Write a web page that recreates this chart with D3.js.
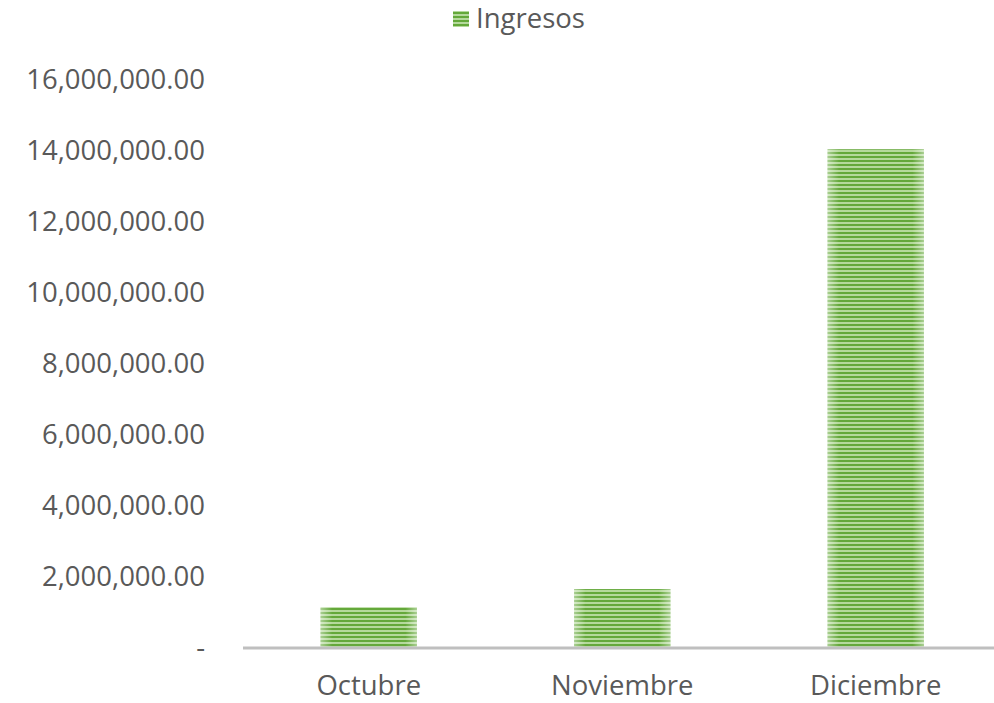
<!DOCTYPE html>
<html><head><meta charset="utf-8">
<script src="https://cdn.jsdelivr.net/npm/d3@7"></script>
<style>body{margin:0;background:#fff}svg{display:block}</style>
</head><body>
<script>
const categories = ["Octubre", "Noviembre", "Diciembre"];
const ingresos = [1150000, 1660000, 14050000];
const yTicks = [0, 2000000, 4000000, 6000000, 8000000, 10000000, 12000000, 14000000, 16000000];
const seriesName = "Ingresos";

const W = 994, H = 703;
const svg = d3.select("body").append("svg").attr("width", W).attr("height", H);
const defs = svg.append("defs");
const pat = defs.append("pattern").attr("id", "stripes").attr("patternUnits", "userSpaceOnUse")
  .attr("width", 8).attr("height", 4);
pat.append("rect").attr("width", 8).attr("height", 4).attr("fill", "#b5d99c");
pat.append("rect").attr("y", 0).attr("width", 8).attr("height", 2).attr("fill", "#64a83a");
const grad = defs.append("linearGradient").attr("id", "edge").attr("x1", 0).attr("x2", 1);
grad.append("stop").attr("offset", 0).attr("stop-color", "#fff").attr("stop-opacity", 0.45);
grad.append("stop").attr("offset", 0.12).attr("stop-color", "#fff").attr("stop-opacity", 0);
grad.append("stop").attr("offset", 0.88).attr("stop-color", "#fff").attr("stop-opacity", 0);
grad.append("stop").attr("offset", 1).attr("stop-color", "#fff").attr("stop-opacity", 0.45);

const font = "'Open Sans', Lato, sans-serif";
const fs = 27.5;
const x = d3.scaleBand().domain(categories).range([242, 1002.5]).paddingInner(0.62).paddingOuter(0.31);
const y = d3.scaleLinear().domain([0, 16000000]).range([648, 80]);

const fmt = d3.format(",.2f");
const yAxis = svg.append("g").attr("transform", "translate(205,0)")
  .call(d3.axisLeft(y).tickValues(yTicks).tickSize(0).tickPadding(0)
    .tickFormat(d => d === 0 ? "-" : fmt(d)));
yAxis.select(".domain").remove();
yAxis.selectAll("text").attr("font-family", font).attr("font-size", fs).attr("fill", "#595959")
  .attr("dy", "0.3em");

const bars = svg.append("g").selectAll("g").data(categories).join("g");
bars.append("rect")
  .attr("x", d => x(d)).attr("width", x.bandwidth())
  .attr("y", (d, i) => y(ingresos[i])).attr("height", (d, i) => y(0) - y(ingresos[i]))
  .attr("fill", "url(#stripes)");
bars.append("rect")
  .attr("x", d => x(d)).attr("width", x.bandwidth())
  .attr("y", (d, i) => y(ingresos[i])).attr("height", (d, i) => y(0) - y(ingresos[i]))
  .attr("fill", "url(#edge)");

const xAxis = svg.append("g").attr("transform", "translate(0,648)")
  .call(d3.axisBottom(x).tickSize(0).tickPadding(39));
xAxis.select(".domain").remove();
xAxis.append("line").attr("x1", 243).attr("x2", 994).attr("y1", 0).attr("y2", 0)
  .attr("stroke", "#bfbfbf").attr("stroke-width", 3);
xAxis.selectAll("text").attr("font-family", font).attr("font-size", fs).attr("fill", "#595959")
  .attr("dy", "0.3em");

const lg = svg.append("g");
lg.append("rect").attr("x", 453).attr("y", 11).attr("width", 16).attr("height", 16).attr("fill", "url(#stripes)");
lg.append("text").attr("x", 476).attr("y", 19).attr("dy", "0.33em").text(seriesName)
  .attr("font-family", font).attr("font-size", fs).attr("fill", "#595959");
</script>
</body></html>
